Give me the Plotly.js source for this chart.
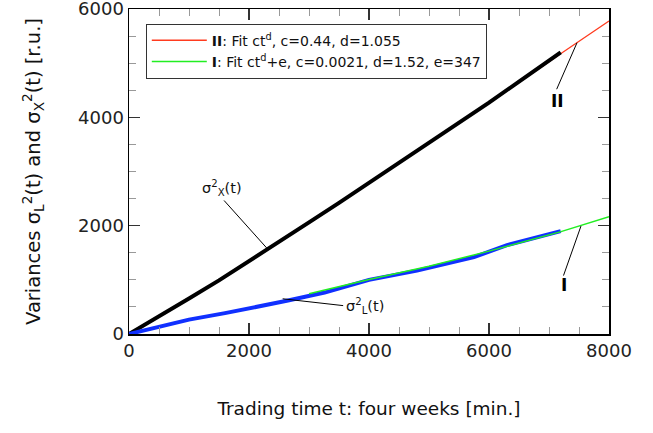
<!DOCTYPE html>
<html>
<head>
<meta charset="utf-8">
<script src="https://cdn.plot.ly/plotly-3.0.1.min.js"></script>
<style>html,body{margin:0;padding:0;background:#fff;}#chart{width:653px;height:433px;}</style>
</head>
<body>
<div id="chart"></div>
<script>
// sigma_X^2(t) data (black)
const tX = [0, 500, 1000, 1500, 2000, 2500, 3000, 3500, 4000, 4500, 5000, 5500, 6000, 6500, 7195];
const vX = [0, 320, 655, 990, 1340, 1700, 2060, 2420, 2790, 3150, 3520, 3890, 4270, 4660, 5200];
// sigma_L^2(t) data (blue)
const tL = [0, 500, 1000, 1600, 2000, 2650, 3260, 3600, 4000, 4800, 5750, 6300, 6700, 7195];
const vL = [0, 140, 265, 385, 468, 618, 765, 880, 1000, 1170, 1420, 1640, 1750, 1900];
// Fit II (red)
const tFitII = [0, 2000, 4000, 6000, 7200, 8000];
const vFitII = [0, 1335, 2785, 4265, 5180, 5780];
// Fit I (green)
const tFitI = [3000, 4000, 5000, 6000, 7200, 8000];
const vFitI = [745, 1005, 1250, 1530, 1890, 2165];

const nameII = '<b>II</b>: Fit ct<sup>d</sup>, c=0.44, d=1.055';
const nameI = '<b>I</b>: Fit ct<sup>d</sup>+e, c=0.0021, d=1.52, e=347';

const font = 'DejaVu Sans, Liberation Sans, sans-serif';

const traces = [
  {x: tFitII, y: vFitII, mode: 'lines', name: nameII, line: {color: '#ff3b1f', width: 1.3}},
  {x: tX, y: vX, mode: 'lines', showlegend: false, line: {color: '#000', width: 4}},
  {x: tL, y: vL, mode: 'lines', showlegend: false, line: {color: '#1030ff', width: 4}},
  {x: tFitI, y: vFitI, mode: 'lines', name: nameI, line: {color: '#22ee22', width: 1.5}}
];

const axisCommon = {
  showgrid: false, zeroline: false, showline: true, linecolor: '#000', linewidth: 1.5,
  mirror: 'ticks', ticks: 'inside', ticklen: 11, tickwidth: 1.2, tickcolor: '#333',
  tickfont: {family: font, size: 18, color: '#222'},
  ticklabeloverflow: 'allow',
  minor: {dtick: 500, ticks: 'inside', ticklen: 7, tickcolor: '#999', tickwidth: 1}
};

const layout = {
  width: 653, height: 433,
  margin: {l: 129, r: 44, t: 9, b: 99},
  paper_bgcolor: '#fff', plot_bgcolor: '#fff',
  font: {family: font, color: '#111'},
  showlegend: true,
  legend: {
    x: 0.035, y: 0.955, xanchor: 'left', yanchor: 'top',
    bordercolor: '#333', borderwidth: 1, bgcolor: '#fff',
    font: {family: font, size: 14, color: '#111'},
    tracegroupgap: 0, itemwidth: 55
  },
  xaxis: Object.assign({}, axisCommon, {
    range: [0, 8000], dtick: 2000, tick0: 0,
    title: {text: 'Trading time t: four weeks [min.]', font: {family: font, size: 18.5, color: '#111'}, standoff: 42}
  }),
  yaxis: Object.assign({}, axisCommon, {
    range: [0, 6000], dtick: 2000, tick0: 0,
    title: {text: 'Variances σ<sub>L</sub><sup>2</sup>(t) and σ<sub>X</sub><sup>2</sup>(t) [r.u.]', font: {family: font, size: 19.5, color: '#111'}, standoff: 32}
  }),
  annotations: [
    {x: 2295, y: 1588, ax: -44, ay: -49, text: '', showarrow: true, arrowhead: 0, arrowwidth: 1, arrowcolor: '#000', standoff: 0},
    {x: 2295, y: 1588, xshift: -45, yshift: 60, text: 'σ<sup>2</sup><sub>X</sub>(t)', showarrow: false, font: {family: font, size: 14.5, color: '#111'}},
    {x: 2561, y: 650, ax: 62, ay: 7, text: '', showarrow: true, arrowhead: 0, arrowwidth: 1, arrowcolor: '#000', standoff: 0},
    {x: 2561, y: 650, xshift: 82, yshift: -7, text: 'σ<sup>2</sup><sub>L</sub>(t)', showarrow: false, font: {family: font, size: 14.5, color: '#111'}},
    {x: 7467, y: 5378, ax: -21, ay: 48, text: '', showarrow: true, arrowhead: 0, arrowwidth: 1, arrowcolor: '#000', standoff: 0},
    {x: 7467, y: 5378, xshift: -20, yshift: -58, text: '<b>II</b>', showarrow: false, font: {family: font, size: 17, color: '#000'}},
    {x: 7533, y: 1993, ax: -18, ay: 51, text: '', showarrow: true, arrowhead: 0, arrowwidth: 1, arrowcolor: '#000', standoff: 0},
    {x: 7533, y: 1993, xshift: -17, yshift: -59, text: '<b>I</b>', showarrow: false, font: {family: font, size: 17, color: '#000'}}
  ]
};

Plotly.newPlot('chart', traces, layout, {displayModeBar: false, staticPlot: true});
</script>
</body>
</html>
